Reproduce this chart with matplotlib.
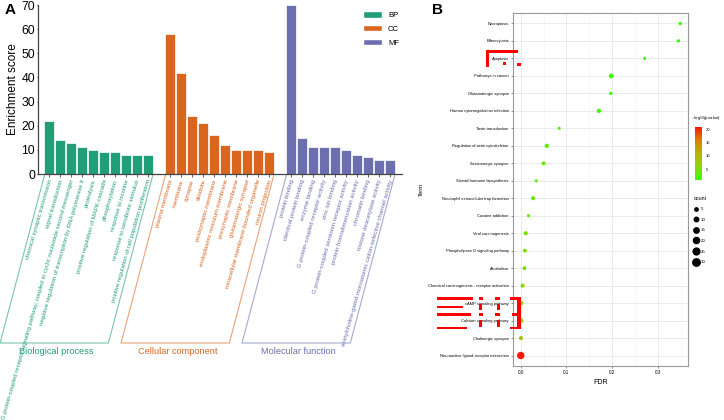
import numpy as np
import matplotlib
matplotlib.use("Agg")
import matplotlib.pyplot as plt
from matplotlib.patches import Patch, Rectangle
from matplotlib.lines import Line2D
from matplotlib.colors import LinearSegmentedColormap, Normalize

plt.rcParams["font.family"] = ["Liberation Sans", "DejaVu Sans"]

# ---------------- data : panel A (GO enrichment) ----------------
bp_terms = [
    "chemical synaptic transmission",
    "signal transduction",
    "G protein-coupled receptor signaling pathway, coupled to cyclic nucleotide second messenger",
    "negative regulation of transcription by RNA polymerase II",
    "proteolysis",
    "positive regulation of MAPK cascade",
    "phosphorylation",
    "response to nicotine",
    "response to xenobiotic stimulus",
    "positive regulation of cell population proliferation",
]
bp_scores = [22, 14, 13, 11, 10, 9, 9, 8, 8, 8]

cc_terms = [
    "plasma membrane",
    "membrane",
    "synapse",
    "dendrite",
    "postsynaptic membrane",
    "endoplasmic reticulum membrane",
    "presynaptic membrane",
    "glutamatergic synapse",
    "intracellular membrane-bounded organelle",
    "neuron projection",
]
cc_scores = [58, 42, 24, 21, 16, 12, 10, 10, 10, 9]

mf_terms = [
    "protein binding",
    "identical protein binding",
    "enzyme binding",
    "G protein-coupled receptor activity",
    "zinc ion binding",
    "G protein-coupled serotonin receptor activity",
    "protein homodimerization activity",
    "chromatin binding",
    "histone deacetylase activity",
    "acetylcholine-gated monoatomic cation-selective channel activity",
]
mf_scores = [70, 15, 11, 11, 11, 10, 8, 7, 6, 6]

group_names = ["Biological process", "Cellular component", "Molecular function"]
group_keys = ["BP", "CC", "MF"]
group_colors = ["#1f9e78", "#d9651f", "#6b6fb0"]

# ---------------- data : panel B (KEGG dot plot) ----------------
kegg_terms = [
    "Necroptosis",
    "Efferocytosis",
    "Apoptosis",
    "Pathways in cancer",
    "Glutamatergic synapse",
    "Human cytomegalovirus infection",
    "Taste transduction",
    "Regulation of actin cytoskeleton",
    "Serotonergic synapse",
    "Steroid hormone biosynthesis",
    "Neutrophil extracellular trap formation",
    "Cocaine addiction",
    "Viral carcinogenesis",
    "Phospholipase D signaling pathway",
    "Alcoholism",
    "Chemical carcinogenesis - receptor activation",
    "cAMP signaling pathway",
    "Calcium signaling pathway",
    "Cholinergic synapse",
    "Neuroactive ligand-receptor interaction",
]
kegg_fdr = [0.349, 0.345, 0.271, 0.198, 0.197, 0.171, 0.084, 0.057, 0.050, 0.034,
            0.027, 0.017, 0.011, 0.009, 0.008, 0.004, 0.001, 0.001, 0.0005, 0.0]
kegg_logp = [1.2, 1.3, 1.5, 1.8, 1.9, 2.1, 2.9, 3.2, 3.4, 3.7,
             3.9, 4.2, 4.5, 4.6, 4.8, 5.6, 6.8, 7.4, 8.6, 20.8]
kegg_count = [5, 5, 4, 12, 5, 9, 4, 9, 7, 4,
              8, 4, 8, 7, 7, 8, 9, 10, 8, 30]
count_breaks = [5, 10, 15, 20, 25, 30]
logp_breaks = [5, 10, 15, 20]

W, H = 724, 420
fig = plt.figure(figsize=(W / 100, H / 100), dpi=100)


def px_axes(left, top, right, bottom):
    return fig.add_axes([left / W, 1 - bottom / H, (right - left) / W, (bottom - top) / H])


# =====================================================
# Panel A
# =====================================================
ax = px_axes(38, 5, 402, 174)
all_terms = [bp_terms, cc_terms, mf_terms]
all_scores = [bp_scores, cc_scores, mf_scores]

shift = 4.05     # horizontal slant of the brackets (data units)
drop = -70       # depth of the brackets (data units)
ticks = []
for g, (terms, scores) in enumerate(zip(all_terms, all_scores)):
    x = np.arange(len(terms)) + g * (len(terms) + 1)
    ticks.extend(x)
    col = group_colors[g]
    ax.bar(x, scores, width=0.92, color=col, edgecolor="white", linewidth=0.5,
           label=group_keys[g], zorder=2)
    for xi, t in zip(x, terms):
        ax.text(xi + 0.1, -2.3, t, rotation=74, rotation_mode="anchor",
                ha="right", va="center", fontsize=4.3, color=col, clip_on=False)
    x0, x1 = x[0] - 0.4, x[-1] + 0.45
    ax.plot([x0, x0 - shift, x1 - shift, x1], [-0.3, drop, drop, -0.3],
            color=col, alpha=0.6, lw=0.8, clip_on=False)
    ax.text((x0 + x1) / 2 - shift + 0.2, drop - 1.5, group_names[g], ha="center", va="top",
            fontsize=6.6, color=col, clip_on=False)

ax.set_xlim(-1, 32.1)
ax.set_ylim(0, 70)
ax.set_xticks(ticks)
ax.set_xticklabels([])
ax.tick_params(axis="x", length=2, width=0.6, color="#444444")
ax.set_yticks(range(0, 71, 10))
ax.tick_params(axis="y", labelsize=8.8, length=1, width=0.8, color="#444444", pad=1.2)
ax.set_ylabel("Enrichment score", fontsize=8.5, labelpad=2)
for s in ["top", "right"]:
    ax.spines[s].set_visible(False)
for s in ["left", "bottom"]:
    ax.spines[s].set_color("#444444")
    ax.spines[s].set_linewidth(0.9)

handles = [Patch(facecolor=c, edgecolor="white") for c in group_colors]
fig.legend(handles, group_keys, loc="upper left", bbox_to_anchor=(360 / W, 1 - 8 / H),
           frameon=False, fontsize=5.6, handlelength=2.4, handleheight=0.9,
           labelspacing=0.75, handletextpad=0.8, borderaxespad=0)

fig.text(5 / W, 1 - 3 / H, "A", fontsize=11, fontweight="bold", va="top")

# =====================================================
# Panel B
# =====================================================
bx = px_axes(513, 13, 688, 366)
cmap = LinearSegmentedColormap.from_list(
    "gr", ["#33ff00", "#8fd800", "#b9b300", "#dc8200", "#ff1500"])
norm = Normalize(vmin=0.9, vmax=20.8)
ypos = np.arange(len(kegg_terms))[::-1] + 1
sizes = np.array(kegg_count) * 0.9 + 1.5
bx.scatter(kegg_fdr, ypos, s=sizes, c=kegg_logp, cmap=cmap, norm=norm,
           linewidths=0, zorder=3)
bx.set_xlim(-0.017, 0.366)
bx.set_ylim(0.4, len(kegg_terms) + 0.6)
bx.set_yticks(ypos)
bx.set_yticklabels(kegg_terms, fontsize=2.9)
bx.set_xticks([0.0, 0.1, 0.2, 0.3])
bx.set_xticklabels(["0.0", "0.1", "0.2", "0.3"], fontsize=3.3)
bx.set_xticks([0.05, 0.15, 0.25, 0.35], minor=True)
bx.tick_params(axis="both", length=1.5, width=0.4, color="#333333", pad=1.5)
bx.tick_params(axis="x", which="minor", length=0)
bx.grid(True, which="major", color="#e8e8e8", lw=0.6, zorder=0)
bx.grid(True, which="minor", axis="x", color="#f2f2f2", lw=0.4, zorder=0)
bx.set_axisbelow(True)
for s in bx.spines.values():
    s.set_color("#999999")
    s.set_linewidth(0.8)
bx.set_xlabel("FDR", fontsize=5, labelpad=3)
bx.set_ylabel("Term", fontsize=4.2, labelpad=3)

fig.text(432 / W, 1 - 3 / H, "B", fontsize=11, fontweight="bold", va="top")

# colour bar
cax = px_axes(695, 127, 702, 180)
grad = np.linspace(norm.vmin, norm.vmax, 200).reshape(-1, 1)
cax.imshow(grad, aspect="auto", origin="lower", cmap=cmap, norm=norm,
           extent=[0, 1, norm.vmin, norm.vmax])
cax.set_xticks([])
cax.yaxis.tick_right()
cax.set_yticks(logp_breaks)
cax.tick_params(axis="y", labelsize=3, length=1.5, width=0.4, color="white", pad=1.5)
for s in cax.spines.values():
    s.set_visible(False)
fig.text(691 / W, 1 - 118 / H, r"- log$_{10}$(pvalue)", fontsize=3.2, va="center")

# size legend
size_handles = [Line2D([], [], ls="", marker="o", color="black",
                       markersize=np.sqrt(c * 0.9 + 1.5)) for c in count_breaks]
leg = fig.legend(size_handles, [str(c) for c in count_breaks], title="count",
                 loc="upper left", bbox_to_anchor=(692 / W, 1 - 194 / H),
                 frameon=False, fontsize=3.2, title_fontsize=3.8,
                 handlelength=1.2, labelspacing=1.45, handletextpad=0.4,
                 borderaxespad=0, alignment="left")

# red annotation marks present on the original figure
red_boxes = [
    (486, 50, 32, 3), (486, 50, 3, 17), (503, 62, 3, 3), (517, 63, 4, 3),
    (437, 297, 36, 3), (479, 297, 4, 3), (495, 297, 5, 3), (510, 297, 11, 3),
    (437, 306, 26, 2), (479, 304, 3, 6), (497, 304, 3, 6),
    (437, 313, 34, 3), (479, 313, 4, 3), (495, 313, 5, 3), (512, 313, 9, 3),
    (437, 327, 30, 2), (479, 320, 3, 7), (497, 320, 3, 7), (510, 327, 11, 2),
    (517, 297, 4, 32),
]
for (l, t, w, h) in red_boxes:
    fig.add_artist(Rectangle((l / W, 1 - (t + h) / H), w / W, h / H,
                             transform=fig.transFigure, color="#ff0000", lw=0))

fig.savefig("out.png", dpi=100)
